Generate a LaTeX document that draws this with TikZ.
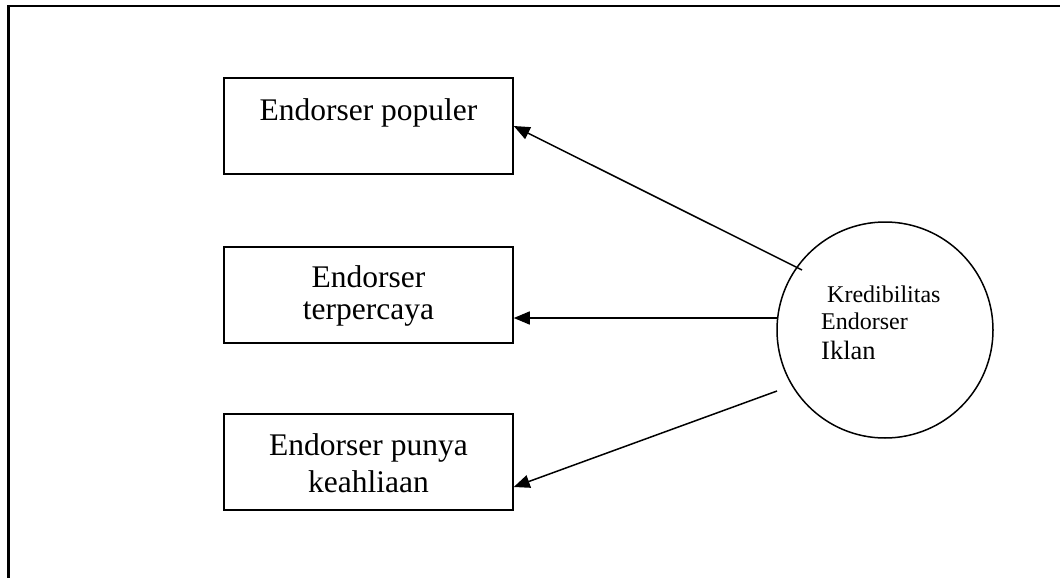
\documentclass[tikz,border=0pt]{standalone}
\usepackage{fontspec}
\setmainfont{Liberation Serif}
\usetikzlibrary{arrows.meta,calc}
\begin{document}
\begin{tikzpicture}[x=1pt,y=-1pt,
  box/.style={draw, line width=1.5pt, minimum width=289pt, minimum height=96pt, inner sep=0pt},
  boxtext/.style={anchor=base, inner sep=0pt, font=\fontsize{31.5}{32}\selectfont},
  ctext/.style={anchor=base west, inner sep=0pt, font=\fontsize{24}{26}\selectfont},
  link/.style={line width=1.5pt, -{Triangle[length=16pt,width=13pt]}},
  frame/.style={line width=2.2pt}]
\useasboundingbox (0,0) rectangle (1060,578);

% open frame: top and left edges only
\coordinate (fc) at (8.5,6);
\draw[frame] (8.5,578) -- (fc) -- (1060,6);

% indicator boxes
\node[box] (b1) at (368.5,126) {};
\node[box] (b2) at (368.5,295) {};
\node[box] (b3) at (368.5,462) {};

\node[boxtext] (t1) at (368.5,120) {Endorser populer};
\node[boxtext] (t2a) at (368.5,287) {Endorser};
\node[boxtext] (t2b) at (368.5,319) {terpercaya};
\node[boxtext] (t3a) at (368.5,455) {Endorser punya};
\node[boxtext] (t3b) at (368.5,492) {keahliaan};

% construct circle
\node[draw, circle, line width=1.5pt, minimum size=216pt, inner sep=0pt] (k) at (885,330) {};
\node[ctext] (k1) at (827,302) {Kredibilitas};
\node[ctext] (k2) at (821,329) {Endorser};
\node[ctext, font=\fontsize{26.5}{28}\selectfont] (k3) at (821,359) {Iklan};

% connectors
\coordinate (s1) at (802,270);
\coordinate (s2) at (778,318);
\coordinate (s3) at (777,391);
\draw[link] (s1) -- (b1.east);
\draw[link] (s2) -- (b2.east |- s2);
\draw[link] (s3) -- ($(b3.east)+(0,25)$);
\end{tikzpicture}
\end{document}
